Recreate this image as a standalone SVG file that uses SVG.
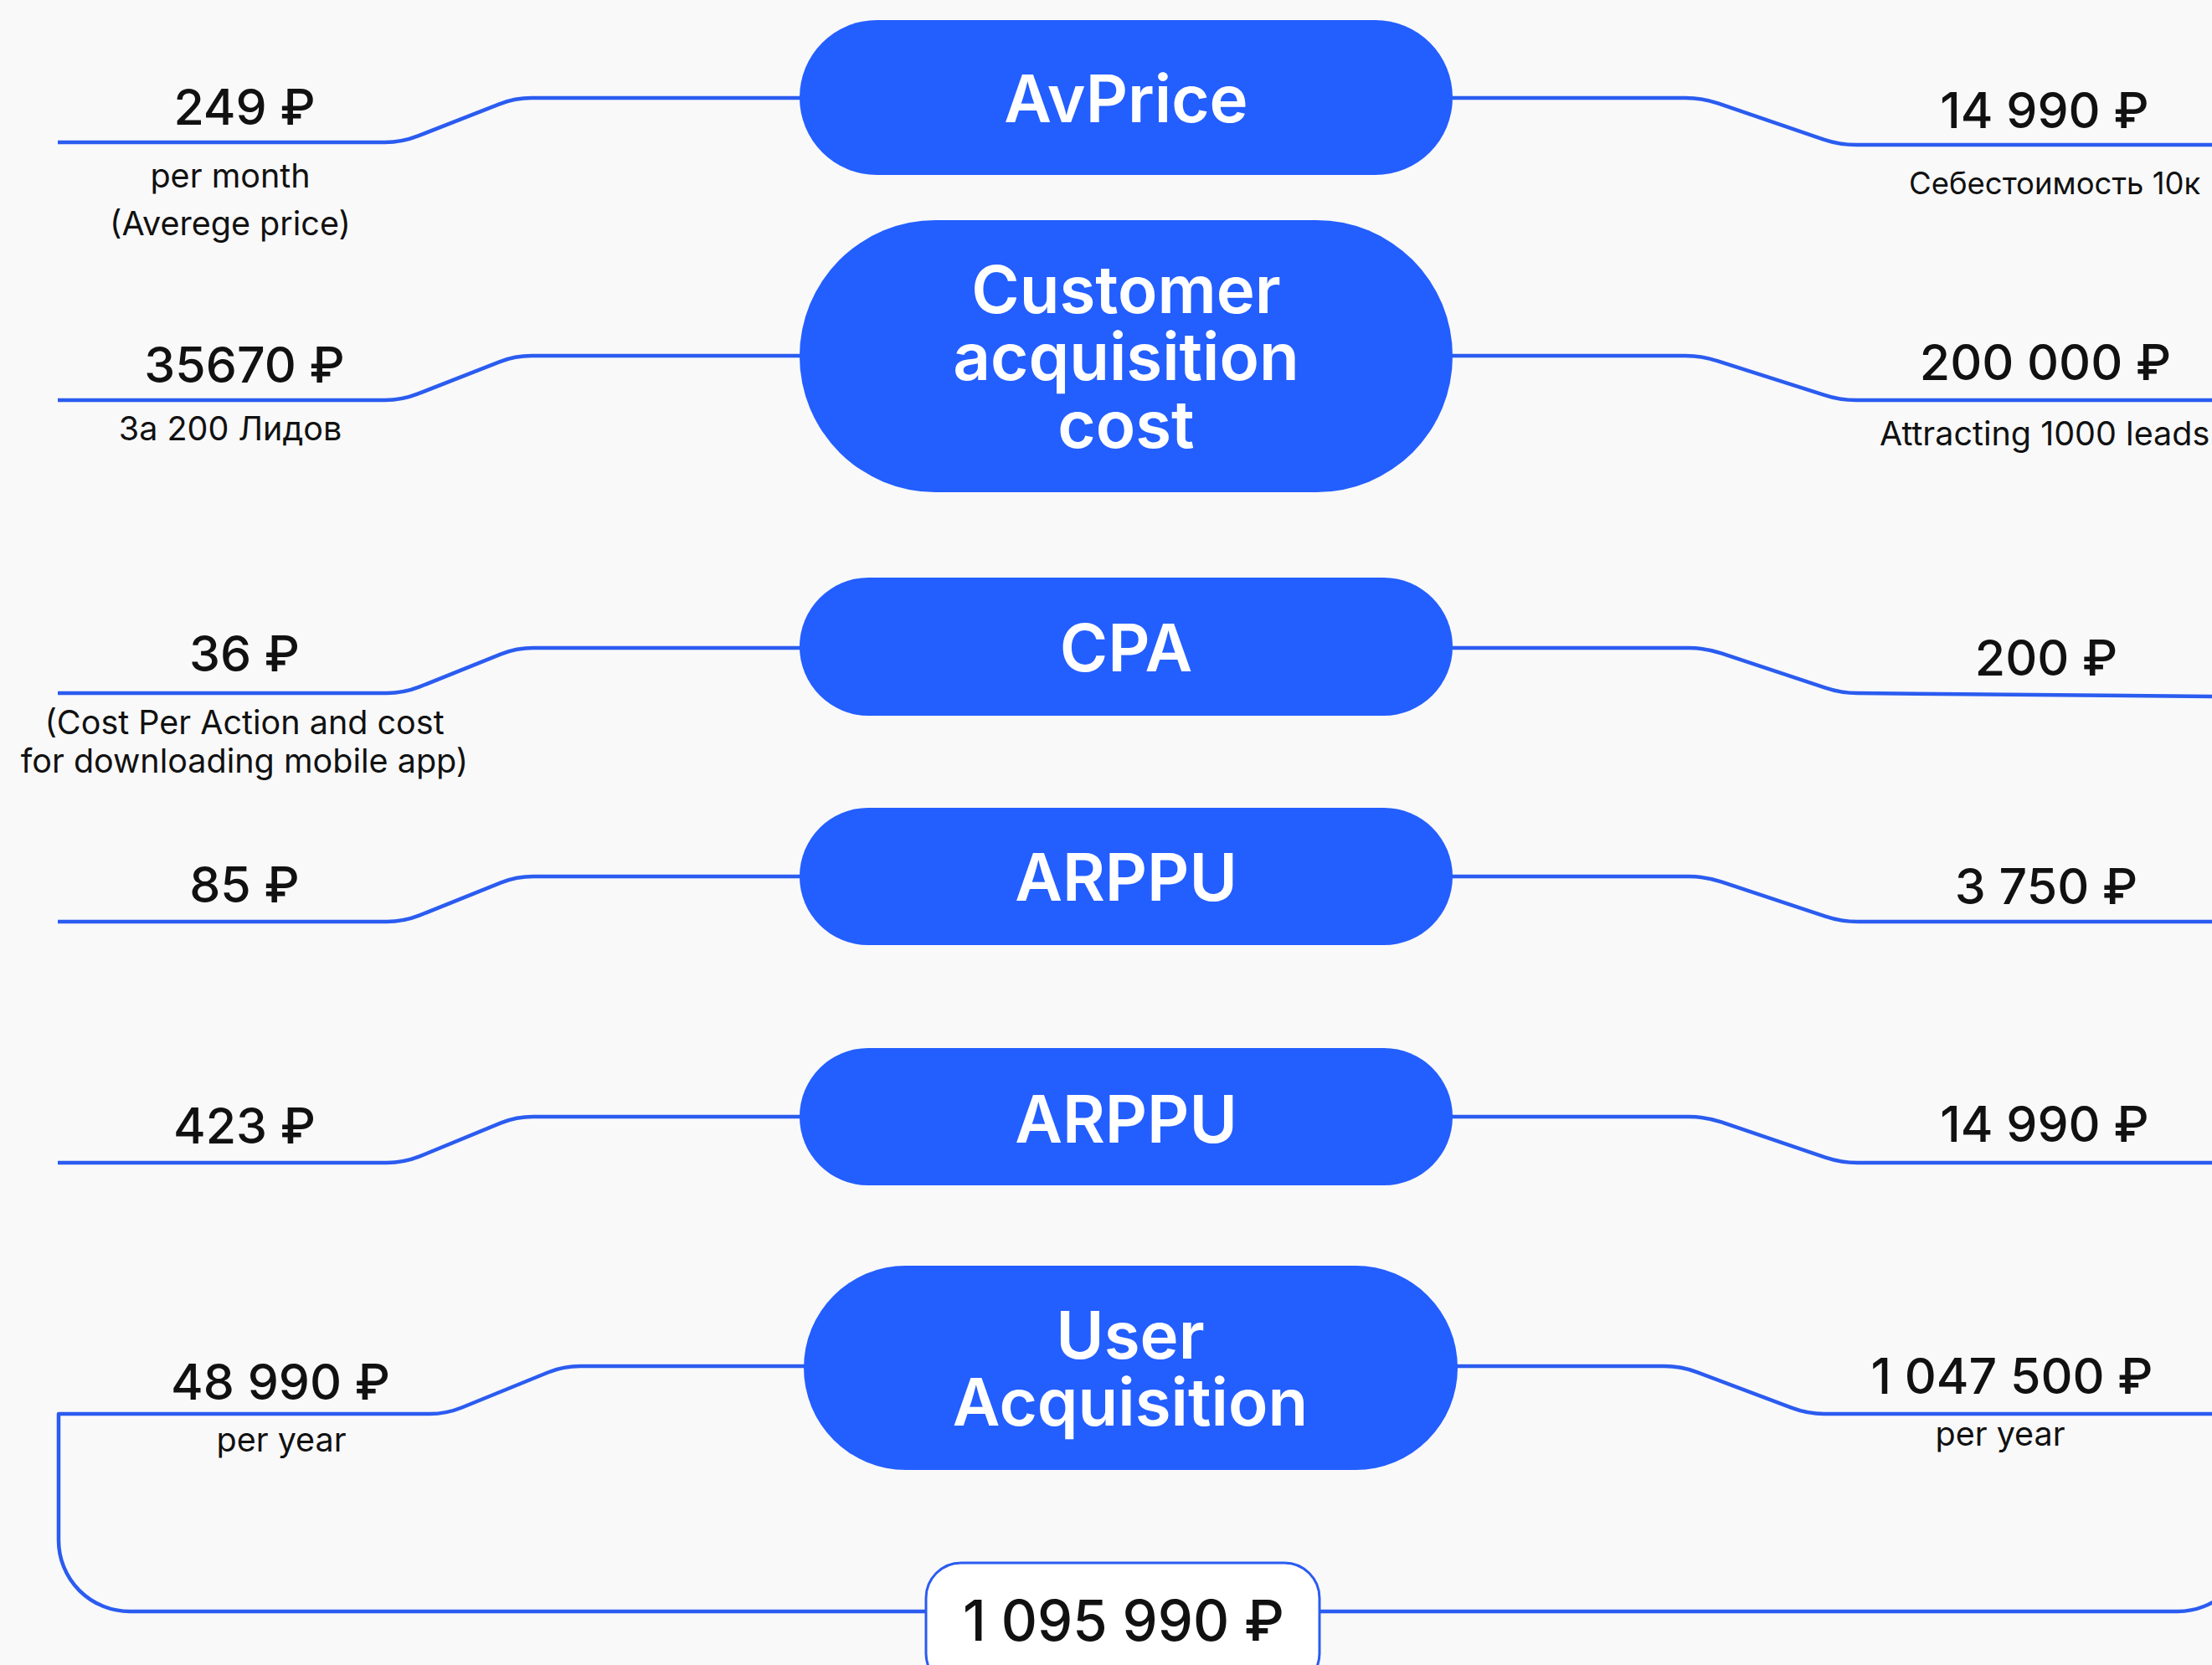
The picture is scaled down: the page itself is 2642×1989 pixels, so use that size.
<svg xmlns="http://www.w3.org/2000/svg" width="2642" height="1989" viewBox="0 0 2642 1989">
<style>
.bg{fill:#f9f9fa}
.pill{fill:#235eff}
.pt{fill:#ffffff;font-family:Inter,"Open Sans","DejaVu Sans",sans-serif;font-weight:600;font-size:78px;text-anchor:middle}
.num{fill:#111111;font-family:Inter,"DejaVu Sans",sans-serif;font-weight:500;font-size:59px;text-anchor:middle}
.sub{fill:#111111;font-family:Inter,"DejaVu Sans",sans-serif;font-weight:400;font-size:39.5px;text-anchor:middle}
.subl{fill:#111111;font-family:Inter,"DejaVu Sans",sans-serif;font-weight:400;font-size:39.5px}
.ln{fill:none;stroke:#2b5cf0;stroke-width:4.5;stroke-linecap:butt;stroke-linejoin:round}
.box{fill:#ffffff;stroke:#2b5cf0;stroke-width:3}
.big{fill:#111111;font-family:Inter,"DejaVu Sans",sans-serif;font-weight:500;font-size:67px;text-anchor:middle}
</style>
<rect class="bg" x="0" y="0" width="2642" height="1989"/>
<g id="connectors">
<path class="ln" d="M69,170 H460 Q480,170 498.6,162.7 L596.4,124.3 Q615,117 635,117 H957"/>
<path class="ln" d="M1734,117 H2013 Q2033,117 2051.9,123.4 L2178.1,166.6 Q2197,173 2217,173 H2642"/>
<path class="ln" d="M69,478 H460 Q480,478 498.6,470.7 L596.4,432.3 Q615,425 635,425 H957"/>
<path class="ln" d="M1734,425 H2013 Q2033,425 2051.9,431.4 L2178.1,471.6 Q2197,478 2217,478 H2642"/>
<path class="ln" d="M69,828 H462 Q482,828 500.6,820.7 L598.4,781.3 Q617,774 637,774 H957"/>
<path class="ln" d="M1734,774 H2017 Q2037,774 2055.9,780.4 L2180.1,821.6 Q2199,828 2219,828 L2642,832"/>
<path class="ln" d="M69,1101 H462 Q482,1101 500.6,1093.7 L598.4,1054.3 Q617,1047 637,1047 H957"/>
<path class="ln" d="M1734,1047 H2017 Q2037,1047 2055.9,1053.4 L2180.1,1094.6 Q2199,1101 2219,1101 H2642"/>
<path class="ln" d="M69,1389 H462 Q482,1389 500.6,1381.7 L598.4,1341.3 Q617,1334 637,1334 H957"/>
<path class="ln" d="M1734,1334 H2017 Q2037,1334 2055.9,1340.4 L2180.1,1382.6 Q2199,1389 2219,1389 H2642"/>
<path class="ln" d="M962,1632 H693 Q673,1632 654.5,1639.5 L551.5,1681.5 Q533,1689 513,1689 H70 V1840 A85,85 0 0 0 155,1925 H1106"/>
<path class="ln" d="M1739,1632 H1988 Q2008,1632 2026.7,1639.1 L2140.3,1681.9 Q2159,1689 2179,1689 H2642"/>
<path class="ln" d="M1576,1925 H2601 A85,85 0 0 0 2686,1840"/>
</g>
<g id="node-avprice">
<rect class="pill" x="955" y="24" width="780" height="185" rx="92.5"/>
<text class="pt" x="1345" y="146">AvPrice</text>
</g>
<g id="node-cac">
<rect class="pill" x="955" y="263" width="780" height="325" rx="162.5"/>
<text class="pt" x="1345" y="374">Customer<tspan x="1345" dy="80">acquisition</tspan><tspan x="1345" dy="81">cost</tspan></text>
</g>
<g id="node-cpa">
<rect class="pill" x="955" y="690" width="780" height="165" rx="82.5"/>
<text class="pt" x="1345" y="802">CPA</text>
</g>
<g id="node-arppu1">
<rect class="pill" x="955" y="965" width="780" height="164" rx="82"/>
<text class="pt" x="1345" y="1076">ARPPU</text>
</g>
<g id="node-arppu2">
<rect class="pill" x="955" y="1252" width="780" height="164" rx="82"/>
<text class="pt" x="1345" y="1365">ARPPU</text>
</g>
<g id="node-ua">
<rect class="pill" x="960" y="1512" width="781" height="244" rx="122"/>
<text class="pt" x="1350" y="1623">User<tspan x="1350" dy="80">Acquisition</tspan></text>
</g>
<g id="node-total">
<rect class="box" x="1106" y="1867" width="470" height="150" rx="42"/>
<text class="big" x="1342" y="1960">1 095 990 ₽</text>
</g>
<g id="labels-left">
<text class="num" x="292" y="149">249 ₽</text>
<text class="sub" x="275" y="224">per month</text>
<text class="sub" x="275" y="281">(Averege price)</text>
<text class="num" x="292" y="457">35670 ₽</text>
<text class="sub" x="275" y="526">За 200 Лидов</text>
<text class="num" x="292" y="802">36 ₽</text>
<text class="sub" x="292" y="877">(Cost Per Action and cost<tspan x="292" dy="46">for downloading mobile app)</tspan></text>
<text class="num" x="292" y="1078">85 ₽</text>
<text class="num" x="292" y="1366">423 ₽</text>
<text class="num" x="335" y="1672">48 990 ₽</text>
<text class="sub" x="336" y="1734">per year</text>
</g>
<g id="labels-right">
<text class="num" x="2442" y="153">14 990 ₽</text>
<text class="subl" x="2280" y="232" style="font-size:36.5px">Себестоимость 10к</text>
<text class="num" x="2443" y="454">200 000 ₽</text>
<text class="subl" x="2245" y="532">Attracting 1000 leads</text>
<text class="num" x="2444" y="807">200 ₽</text>
<text class="num" x="2444" y="1080">3 750 ₽</text>
<text class="num" x="2442" y="1364">14 990 ₽</text>
<text class="num" x="2403" y="1665">1 047 500 ₽</text>
<text class="sub" x="2389" y="1727">per year</text>
</g>
</svg>
